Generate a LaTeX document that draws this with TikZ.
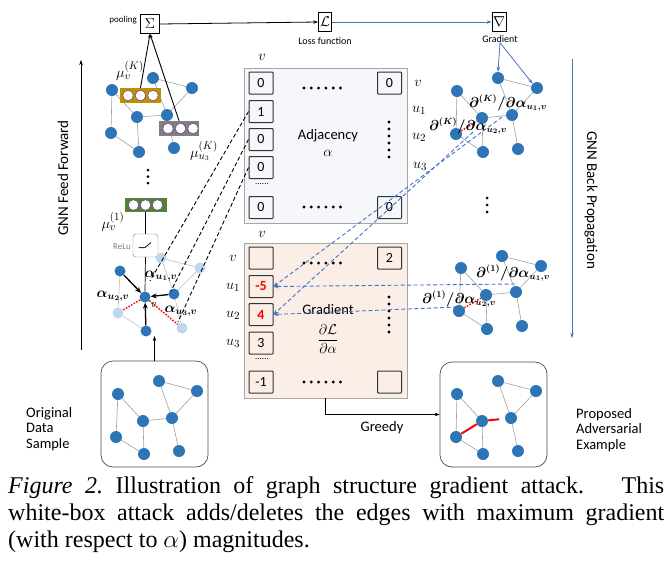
\documentclass[tikz,border=0pt]{standalone}
\usepackage{amsmath}
\usepackage[no-math]{fontspec}
\usepackage{bm}
\setmainfont{Liberation Serif}
\newfontfamily\calfont{Carlito}
\usetikzlibrary{arrows.meta}
\definecolor{nodeblue}{HTML}{2E75B6}
\definecolor{lightnode}{HTML}{BDD7EE}
\definecolor{edgegray}{HTML}{A0A0A0}
\definecolor{lineblue}{HTML}{4472C4}
\definecolor{mustard}{HTML}{BF9000}
\definecolor{vecgray}{HTML}{7F7F7F}
\definecolor{vecgreen}{HTML}{548235}
\definecolor{adjfill}{HTML}{F5F7FB}
\definecolor{gradfill}{HTML}{FBEEE7}
\definecolor{ringviolet}{HTML}{7030A0}
\pgfdeclarelayer{bg}
\pgfsetlayers{bg,main}
\begin{document}
\begin{tikzpicture}[x=1pt,y=-1pt,
  gn/.style={circle,fill=nodeblue,minimum size=12pt,inner sep=0pt},
  sgn/.style={circle,fill=nodeblue,minimum size=11pt,inner sep=0pt},
  ln/.style={circle,fill=lightnode,minimum size=11pt,inner sep=0pt},
  ge/.style={draw=edgegray,line width=0.6pt},
  lab/.style={font=\calfont\fontsize{#1}{#1}\selectfont,inner sep=0pt},
  mth/.style={font=\fontsize{#1}{#1}\selectfont,inner sep=0pt},
  cell/.style={draw=black!80,line width=1pt,minimum width=24pt,minimum height=22pt,inner sep=0pt,rounded corners=0.8pt,font=\calfont\fontsize{14}{14}\selectfont},
  opbox/.style={draw=black,line width=0.8pt,inner sep=0pt,font=\fontsize{14}{14}\selectfont},
  vc/.style={circle,draw=ringviolet,fill=white,line width=0.5pt,minimum size=10.5pt,inner sep=0pt},
  rdot/.style={draw=red,line width=1.5pt,dash pattern=on 1.5pt off 1.5pt},
  bdash/.style={draw=lineblue,line width=0.9pt,dash pattern=on 4pt off 2.5pt,-{Stealth[length=5pt,width=4pt]}},
  kdash/.style={draw=black,line width=0.9pt,dash pattern=on 4pt off 2.5pt},
  tip/.style={-{Stealth[length=5pt,width=3.5pt]}},
  bigtip/.style={-{Stealth[length=6pt,width=5pt]},line width=1.3pt}]
\useasboundingbox (0,0) rectangle (672,563);

% ---------- top row ----------
\node[opbox,minimum width=19pt,minimum height=19pt] (sig) at (150,24) {$\Sigma$};
\node[lab=9,anchor=east] (pool) at (137,20) {pooling};
\node[opbox,minimum width=13pt,minimum height=19pt] (loss) at (325,22) {$\mathcal{L}$};
\node[lab=10] (losslab) at (325,41) {Loss function};
\node[opbox,minimum width=14pt,minimum height=19pt] (nab) at (499,22) {$\nabla$};
\node[lab=10] (gradlab) at (500,39) {Gradient};
\draw[tip,line width=0.8pt] (sig.east) -- (loss.west);
\draw[tip,line width=0.8pt,lineblue] (loss.east) -- (nab.west);

% ---------- side arrows ----------
\coordinate (ffb) at (81,350); \coordinate (fft) at (81,60);
\draw[tip,line width=0.7pt] (ffb) -- (fft);
\node[lab=15,rotate=90] (fflab) at (63,178) {GNN Feed Forward};
\coordinate (bpt) at (572,59); \coordinate (bpb) at (572,338);
\draw[tip,line width=0.7pt,lineblue] (bpt) -- (bpb);
\node[lab=15,rotate=-90] (bplab) at (591,200) {GNN Back Propagation};

% ---------- top-left graph (layer K) ----------
\foreach \n/\x/\y in {a/112/90,b/153/78,c/192/88,d/137/117,e/167/115,f/111/133,g/139/152,h/174/148}
  \node[gn] (T\n) at (\x,\y) {};
\begin{pgfonlayer}{bg}
\foreach \s/\t in {a/f,a/d,b/c,b/e,c/e,d/e,d/g,f/g,e/h} \draw[ge] (T\s) -- (T\t);
\end{pgfonlayer}
\node[fill=mustard,minimum width=41pt,minimum height=15pt,inner sep=0pt] (yb) at (140.5,95.5) {};
\foreach \x in {128,140.5,153} \node[vc] at (\x,95.5) {};
\node[fill=vecgray,minimum width=40pt,minimum height=15pt,inner sep=0pt] (gb) at (179,128.5) {};
\foreach \x in {168,180.5,193} \node[vc] at (\x,128.5) {};
\draw[-{Stealth[length=4pt,width=3pt]},line width=0.9pt] (yb.north) -- (sig.south);
\draw[-{Stealth[length=4pt,width=3pt]},line width=0.9pt] (gb.north) -- (sig.south);
\node[mth=15] (muvk) at (130,71) {$\mu_v^{(K)}$};
\node[mth=15] (muuk) at (204,151) {$\mu_{u_3}^{(K)}$};

% vertical dots
\foreach \y in {170,176.5,183} \fill (148,\y) circle (1.5pt);

% green vector and ReLu
\node[fill=vecgreen,minimum width=42pt,minimum height=14pt,inner sep=0pt] (grb) at (145.5,205) {};
\foreach \x in {133.5,145.5,157.5} \node[vc] at (\x,205) {};
\node[mth=15] (muv1) at (113,222) {$\mu_v^{(1)}$};
\node[draw=gray,rounded corners=3pt,minimum width=25pt,minimum height=23pt,inner sep=0pt] (relu) at (145.5,245.5) {};
\draw[line width=1pt,black!80] (138.5,247.5) -- (145,247.5) -- (151,242.5);
\node[lab=9,text=gray,anchor=east] (relulab) at (131,247) {ReLu};
\draw[line width=0.7pt] (grb.south) -- (relu.north);

% ---------- lower-left graph (layer 1) ----------
\node[sgn] (Lv) at (145,297) {};
\node[sgn] (La) at (120,271) {};
\node[ln]  (Lb) at (161,258) {};
\node[ln]  (Lc) at (200,268) {};
\node[sgn] (Le) at (174,294) {};
\node[ln]  (Lf) at (118,313) {};
\node[sgn] (Lg) at (146,331) {};
\node[ln]  (Lh) at (182,328) {};
\begin{pgfonlayer}{bg}
\foreach \s/\t in {a/f,b/c,b/e,c/e,f/g,e/h} \draw[ge,draw=gray!50] (L\s) -- (L\t);
\end{pgfonlayer}
\draw[line width=0.7pt] (relu.south) -- (Lv.north);
\draw[bigtip] (La) -- (Lv);
\draw[bigtip] (Le) -- (Lv);
\draw[bigtip] (Lg) -- (Lv);
\draw[rdot] (Lv) -- (Lf);
\draw[rdot] (Lv) -- (Lh);
\node[mth=14] (al1) at (161,276) {$\bm{\alpha_{u_1,v}}$};
\node[mth=14] (al2) at (113,296) {$\bm{\alpha_{u_2,v}}$};
\node[mth=14] (al3) at (181,311) {$\bm{\alpha_{u_3,v}}$};
\node[mth=11] (vlab) at (154,305) {$v$};

% ---------- adjacency matrix ----------
\node[draw=gray!70,line width=0.8pt,fill=adjfill,minimum width=163pt,minimum height=155pt,inner sep=0pt] (adj) at (325.5,145.5) {};
\node[cell] (A0) at (261,83) {0};
\node[cell] (A1) at (261,111.5) {1};
\node[cell] (A2) at (261,139.5) {0};
\node[cell] (A3) at (261,167.5) {0};
\node[lab=9] (Adots) at (262,184) {......};
\node[cell] (A4) at (261,207.5) {0};
\node[cell] (AR0) at (389.5,83) {0};
\node[cell] (AR4) at (389.5,207.5) {0};
\foreach \x in {0,1,2,3,4,5} {\fill (304+\x*7.3,88) circle (1.6pt); \fill (304+\x*7.3,207) circle (1.6pt);}
\foreach \y in {0,1,2,3,4,5} \fill (389,122+\y*7) circle (1.6pt);
\node[lab=14.5] (adjtxt) at (328,136) {Adjacency};
\node[mth=15] (adjal) at (328,153) {$\alpha$};
\node[mth=15] (av) at (262,57) {$v$};
\node[mth=15] (rv) at (418,83) {$v$};
\node[mth=15] (ru1) at (419,110) {$u_1$};
\node[mth=15] (ru2) at (419,137) {$u_2$};
\node[mth=15] (ru3) at (420,166) {$u_3$};

% ---------- gradient matrix ----------
\node[draw=gray!70,line width=0.8pt,fill=gradfill,minimum width=163pt,minimum height=155pt,inner sep=0pt] (grad) at (325.5,320.5) {};
\node[cell] (G0) at (261,258) {};
\node[cell,text=red] (G1) at (261,286.5) {\bfseries -5};
\node[cell,text=red] (G2) at (261,314.5) {\bfseries 4};
\node[cell] (G3) at (261,343) {3};
\node[lab=9] (Gdots) at (262,359) {......};
\node[cell] (G4) at (261,382) {-1};
\node[cell] (GR0) at (389.5,258) {2};
\node[cell] (GR4) at (389.5,382) {};
\foreach \x in {0,1,2,3,4,5} {\fill (304+\x*7.3,263) circle (1.6pt); \fill (304+\x*7.3,382) circle (1.6pt);}
\foreach \y in {0,1,2,3,4,5} \fill (389,297+\y*7) circle (1.6pt);
\node[lab=14.5] (gradtxt) at (328,310) {Gradient};
\node[mth=15] (gradfr) at (328,339) {$\dfrac{\partial\mathcal{L}}{\partial\alpha}$};
\node[mth=15] (gv) at (262,234) {$v$};
\node[mth=15] (lv) at (233,258) {$v$};
\node[mth=15] (lu1) at (233,287) {$u_1$};
\node[mth=15] (lu2) at (233,315) {$u_2$};
\node[mth=15] (lu3) at (233,343) {$u_3$};

% ---------- upper-right graph ----------
\foreach \n/\x/\y in {a/457/91,b/498/78,c/537/88,d/482/118,e/512/115,f/456/134,g/483/152,h/518/149}
  \node[gn] (R\n) at (\x,\y) {};
\begin{pgfonlayer}{bg}
\foreach \s/\t in {a/f,a/d,b/c,b/e,c/e,d/e,d/g,f/g,e/h} \draw[ge] (R\s) -- (R\t);
\end{pgfonlayer}
\draw[rdot] (Rf) -- (Rd);
\draw[tip,lineblue,line width=0.8pt] (gradlab.south) -- (Rb.north);
\draw[tip,lineblue,line width=0.8pt] (gradlab.south) -- (Rc.north west);
\node[mth=13.5] (dk1) at (508,103) {$\bm{\partial^{(K)}/\partial\alpha_{u_1,v}}$};
\node[mth=13.5] (dk2) at (468,126) {$\bm{\partial^{(K)}/\partial\alpha_{u_2,v}}$};

\foreach \y in {198,205,212} \fill (487,\y) circle (1.5pt);

% ---------- lower-right graph ----------
\foreach \n/\x/\y in {a/461/268,b/502/256,c/541/266,d/486/295,e/516/292,f/459/311,g/487/329,h/522/326}
  \node[gn] (S\n) at (\x,\y) {};
\begin{pgfonlayer}{bg}
\foreach \s/\t in {a/f,a/d,b/c,b/e,c/e,d/e,d/g,f/g,e/h} \draw[ge] (S\s) -- (S\t);
\end{pgfonlayer}
\draw[rdot] (Sf) -- (Sd);
\node[mth=13.5] (d11) at (513,273) {$\bm{\partial^{(1)}/\partial\alpha_{u_1,v}}$};
\node[mth=13.5] (d12) at (459,299) {$\bm{\partial^{(1)}/\partial\alpha_{u_2,v}}$};

% ---------- dashed connectors ----------
\coordinate (k1) at (150,281);
\coordinate (k2) at (171,291);
\coordinate (k3) at (178,322);
\draw[kdash] (A1.west) -- (k1);
\draw[kdash] (A2.west) -- (k2);
\draw[kdash] (A3.west) -- (k3);
\coordinate (bA) at (502,117);
\coordinate (bB) at (473,132);
\coordinate (bC) at (515,284);
\coordinate (bD) at (457,307);
\draw[bdash] (bA) -- (G1.east);
\draw[bdash] (bC) -- (G1.east);
\draw[bdash] (bB) -- (G2.east);
\draw[bdash] (bD) -- (G2.east);

% ---------- bottom boxes ----------
\node[draw=black!70,line width=0.7pt,rounded corners=12pt,minimum width=107pt,minimum height=106pt,inner sep=0pt] (orig) at (154.5,414) {};
\foreach \n/\x/\y in {a/118/394,b/159/381,c/197/391,d/143/421,e/172/418,f/116/437,g/144/454,h/179/451}
  \node[gn] (O\n) at (\x,\y) {};
\begin{pgfonlayer}{bg}
\foreach \s/\t in {a/f,a/d,b/c,b/e,c/e,d/e,d/g,f/g,e/h} \draw[ge] (O\s) -- (O\t);
\end{pgfonlayer}
\coordinate (ffin) at (154.5,336);
\draw[tip,line width=0.7pt] (orig.north) -- (ffin);
\node[lab=14.5,align=left,anchor=west] (origlab) at (26,429) {Original\\[1pt]Data\\[1pt]Sample};

\node[draw=black!70,line width=0.7pt,rounded corners=12pt,minimum width=107pt,minimum height=105pt,inner sep=0pt] (adv) at (493.5,414.5) {};
\foreach \n/\x/\y in {a/457/394,b/498/381,c/536/391,d/482/421,e/511/418,f/456/437,g/483/454,h/518/451}
  \node[gn] (P\n) at (\x,\y) {};
\begin{pgfonlayer}{bg}
\foreach \s/\t in {a/f,a/d,b/c,b/e,c/e,d/g,f/g,e/h} \draw[ge] (P\s) -- (P\t);
\end{pgfonlayer}
\draw[red,line width=2pt] (Pf) -- (Pd);
\draw[red,line width=2pt,dash pattern=on 11pt off 6pt] (Pd) -- (Pe);
\node[lab=14.5,align=left,anchor=west] (advlab) at (576,430) {Proposed\\[1pt]Adversarial\\[1pt]Example};

\draw[tip,line width=0.7pt] (grad.south) |- (adv.west);
\node[lab=14.5] (greedy) at (382,428) {Greedy};

% ---------- caption ----------
\node[anchor=base west,inner sep=0pt] (cap) at (8,493) {\parbox[t]{656pt}{\fontsize{24}{27}\selectfont\frenchspacing\hyphenpenalty=10000\exhyphenpenalty=10000
\textit{Figure 2.} Illustration of graph structure gradient attack.\ \ \ This\linebreak
white-box attack adds/deletes the edges with maximum gradient\linebreak
(with respect to $\alpha$) magnitudes.}};
\end{tikzpicture}
\end{document}
